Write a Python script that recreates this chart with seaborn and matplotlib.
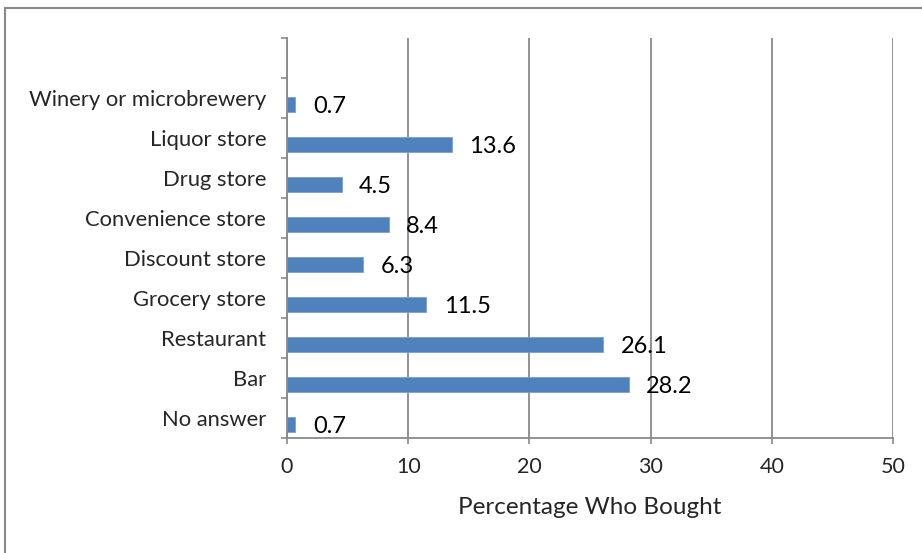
import matplotlib
matplotlib.use("Agg")
import matplotlib.pyplot as plt
import matplotlib.patches as mpatches
import seaborn as sns
import pandas as pd

categories = ["Winery or microbrewery", "Liquor store", "Drug store",
              "Convenience store", "Discount store", "Grocery store",
              "Restaurant", "Bar", "No answer"]
percent = [0.7, 13.6, 4.5, 8.4, 6.3, 11.5, 26.1, 28.2, 0.7]
x_ticks = [0, 10, 20, 30, 40, 50]
x_label = "Percentage Who Bought"

sns.set_theme(style="white")
plt.rcParams["font.family"] = ["Lato", "DejaVu Sans"]

GRAY = "#898989"
BLUE = "#4F81BD"

df = pd.DataFrame({"category": categories, "percent": percent})

fig = plt.figure(figsize=(9.22, 5.53), dpi=100)
ax = fig.add_axes([287/922, 1-438/553, (893-287)/922, 400/553])

sns.barplot(data=df, x="percent", y="category", orient="h", order=categories,
            color=BLUE, saturation=1, width=0.375, edgecolor="#7BA0CD",
            linewidth=0.6, ax=ax)

# Excel-style offset of bars inside their category slot
for p in ax.patches:
    p.set_y(p.get_y() + 0.1625)

texts = ax.bar_label(ax.containers[0], fmt="%.1f", padding=12.5, fontsize=17,
                     color="black")
for t in texts:
    t.set_verticalalignment("center_baseline")

ax.set_xlim(0, 50)
ax.set_ylim(len(categories) - 0.5, -1.5)
ax.set_xticks(x_ticks)
ax.set_xticklabels([str(t) for t in x_ticks], fontsize=15.5)
ax.set_xlabel(x_label, fontsize=17.5, labelpad=14)
ax.set_ylabel("")

# boundary ticks (major) and labels centred in slots (minor)
bounds = [i - 0.5 for i in range(-1, len(categories) + 1)]
ax.set_yticks(bounds)
ax.set_yticklabels([""] * len(bounds))
ax.set_yticks(range(len(categories)), minor=True)
ax.set_yticklabels(categories, minor=True, fontsize=15.8)
ax.tick_params(axis="y", which="major", direction="out", length=4, width=1.2,
               color=GRAY, left=True)
ax.tick_params(axis="y", which="minor", length=0, pad=15)
ax.tick_params(axis="x", which="major", direction="out", length=4, width=1.2,
               color=GRAY, bottom=True, pad=10)

ax.grid(axis="x", color=GRAY, linewidth=1.3)
ax.grid(axis="y", visible=False)
ax.set_axisbelow(True)
for side in ["top", "right"]:
    ax.spines[side].set_visible(False)
for side in ["left", "bottom"]:
    ax.spines[side].set_color(GRAY)
    ax.spines[side].set_linewidth(1.3)

# outer chart border (left and top visible)
fig.patches.append(mpatches.Rectangle((5/922, -0.2), 1.2, 1.2 - 8/553,
                                      transform=fig.transFigure, fill=False,
                                      edgecolor=GRAY, linewidth=1.5))

fig.savefig("out.png", dpi=100)
